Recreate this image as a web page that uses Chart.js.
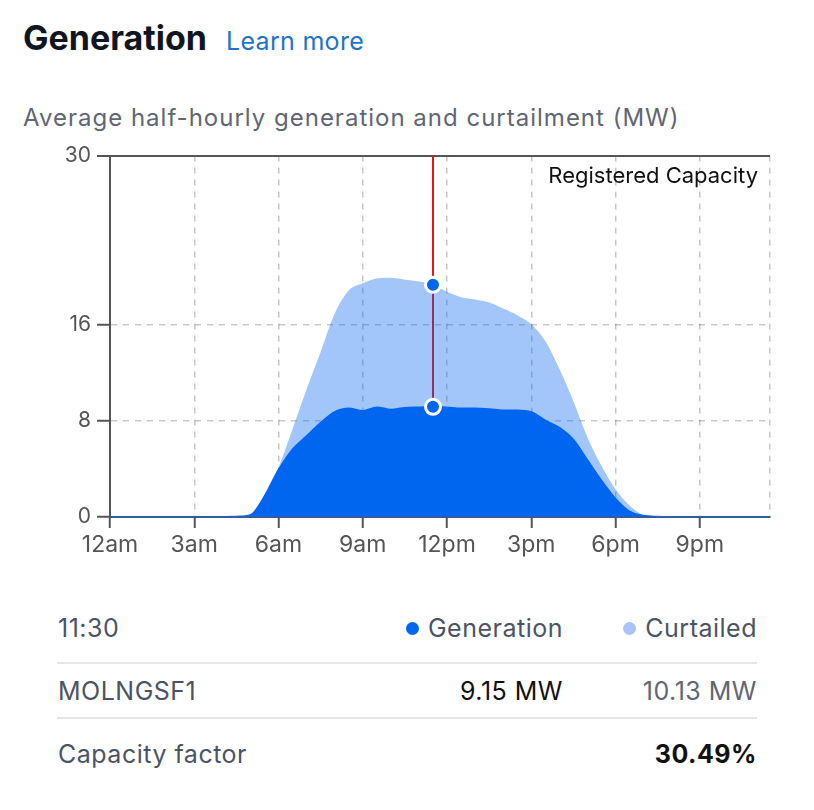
<!DOCTYPE html>
<html>
<head>
<meta charset="utf-8">
<script src="https://cdn.jsdelivr.net/npm/chart.js@4"></script>
<style>
  body { margin: 0; background: #fff; font-family: Inter, "Noto Sans", sans-serif; }
  #page { position: relative; width: 814px; height: 810px; overflow: hidden; }
  .abs { position: absolute; white-space: nowrap; }
  #title { left: 23px; top: 18px; line-height: 40px; display: flex; align-items: baseline; }
  #title b { font-size: 34px; color: #0f1523; font-weight: 700; }
  #title a { font-size: 25px; color: #1f74c8; margin-left: 19px; text-decoration: none; letter-spacing: 0.3px; }
  #subtitle { left: 23px; top: 104px; font-size: 24px; line-height: 28px; color: #5f6675; letter-spacing: 1px; }
  #chartBox { position: absolute; left: 0; top: 137px; width: 814px; height: 433px; }
  .row { left: 57px; width: 700px; font-size: 25px; line-height: 30px; color: #4b5466; letter-spacing: 0.5px; }
  .row span { position: absolute; top: 0; }
  .rule { position: absolute; left: 57px; width: 700px; height: 2px; background: #e3e5ea; }
  .dot { display: inline-block; width: 13px; height: 13px; border-radius: 50%; margin-right: 9px; vertical-align: 2px; }
</style>
</head>
<body>
<div id="page">
  <div id="title" class="abs"><b>Generation</b><a href="#">Learn more</a></div>
  <div id="subtitle" class="abs">Average half-hourly generation and curtailment (MW)</div>
  <div id="chartBox"><canvas id="genChart"></canvas></div>

  <div class="abs row" style="top:613px">
    <span id="hoverTime" style="left:1px"></span>
    <span style="right:194px"><i class="dot" style="background:#0066f0"></i>Generation</span>
    <span style="right:0"><i class="dot" style="background:#a9c4f7"></i>Curtailed</span>
  </div>
  <div class="rule" style="top:662px"></div>
  <div class="abs row" style="top:676px">
    <span id="unitName" style="left:1px"></span>
    <span id="genValue" style="right:194px; color:#111"></span>
    <span id="curValue" style="right:0; color:#5f6675"></span>
  </div>
  <div class="rule" style="top:717px"></div>
  <div class="abs row" style="top:739px">
    <span style="left:1px">Capacity factor</span>
    <span id="capFactor" style="right:0; color:#111; font-weight:700"></span>
  </div>
</div>

<script>
const times = [
  '00:00', '00:30', '01:00', '01:30', '02:00', '02:30', '03:00', '03:30',
  '04:00', '04:30', '05:00', '05:30', '06:00', '06:30', '07:00', '07:30',
  '08:00', '08:30', '09:00', '09:30', '10:00', '10:30', '11:00', '11:30',
  '12:00', '12:30', '13:00', '13:30', '14:00', '14:30', '15:00', '15:30',
  '16:00', '16:30', '17:00', '17:30', '18:00', '18:30', '19:00', '19:30',
  '20:00', '20:30', '21:00', '21:30', '22:00', '22:30', '23:00', '23:30'
];
const generation = [
  0, 0, 0, 0, 0, 0, 0, 0,
  0, 0.03, 0.15, 1.7, 3.9, 5.6, 6.7, 7.8,
  8.7, 9.0, 8.8, 9.1, 8.9, 9.05, 9.1, 9.15,
  9.1, 9.0, 9.0, 8.95, 8.85, 8.85, 8.7, 8.0,
  7.4, 6.4, 4.7, 3.0, 1.5, 0.45, 0.1, 0.02,
  0, 0, 0, 0, 0, 0, 0, 0
];
const curtailed = [
  0, 0, 0, 0, 0, 0, 0, 0,
  0, 0, 0, 0, 0.2, 1.7, 3.9, 5.9,
  8.2, 9.8, 10.6, 10.7, 10.95, 10.65, 10.45, 10.13,
  9.6, 9.25, 9.05, 8.85, 8.45, 7.9, 7.3, 6.6,
  4.9, 3.2, 1.9, 1.25, 0.8, 0.5, 0.05, 0,
  0, 0, 0, 0, 0, 0, 0, 0
];
const hourLabels = ['12am', '3am', '6am', '9am', '12pm', '3pm', '6pm', '9pm'];
const yTicks = [0, 8, 16, 30];
const registeredCapacity = 30;
const unitName = 'MOLNGSF1';
const capacityFactor = '30.49%';
const hoverTime = '11:30';

const hoverIndex = times.indexOf(hoverTime);
const BLUE = '#0066f0';
const AXIS = '#555';
const FONT = 'Inter, "Noto Sans", sans-serif';

document.getElementById('hoverTime').textContent = hoverTime;
document.getElementById('unitName').textContent = unitName;
document.getElementById('genValue').textContent = generation[hoverIndex].toFixed(2) + ' MW';
document.getElementById('curValue').textContent = curtailed[hoverIndex].toFixed(2) + ' MW';
document.getElementById('capFactor').textContent = capacityFactor;

// red cursor line, drawn before the fills so it shows through the curtailed area
const cursorLine = {
  id: 'cursorLine',
  beforeDatasetsDraw(chart) {
    const pt = chart.getDatasetMeta(0).data[hoverIndex];
    const { ctx, chartArea } = chart;
    ctx.save();
    ctx.strokeStyle = '#ee1111';
    ctx.lineWidth = 2;
    ctx.beginPath();
    ctx.moveTo(pt.x, chartArea.top);
    ctx.lineTo(pt.x, pt.y);
    ctx.stroke();
    ctx.restore();
  },
  afterDraw(chart) {
    const { ctx, chartArea } = chart;
    ctx.save();
    ctx.font = '22px ' + FONT;
    ctx.fillStyle = '#111';
    ctx.textAlign = 'right';
    ctx.textBaseline = 'alphabetic';
    ctx.fillText('Registered Capacity', chartArea.right - 12, chartArea.top + 27);
    ctx.restore();
  }
};

const hoverRadius = (c) => (c.dataIndex === hoverIndex ? 7.5 : 0);
const isThreeHour = (c) => c.index % 6 === 0 || c.index === times.length - 1;

new Chart(document.getElementById('genChart'), {
  type: 'line',
  data: {
    labels: times,
    datasets: [
      {
        label: 'Generation',
        data: generation,
        borderColor: BLUE,
        backgroundColor: BLUE,
        borderWidth: 2,
        fill: 'origin',
        cubicInterpolationMode: 'monotone',
        pointRadius: hoverRadius,
        pointBackgroundColor: BLUE,
        pointBorderColor: '#fff',
        pointBorderWidth: 3
      },
      {
        label: 'Curtailed',
        data: curtailed,
        borderColor: 'rgba(0,0,0,0)',
        backgroundColor: 'rgba(0,98,240,0.36)',
        borderWidth: 0,
        fill: '-1',
        cubicInterpolationMode: 'monotone',
        pointRadius: hoverRadius,
        pointBackgroundColor: BLUE,
        pointBorderColor: '#fff',
        pointBorderWidth: 3
      }
    ]
  },
  options: {
    responsive: true,
    maintainAspectRatio: false,
    animation: false,
    events: [],
    layout: { padding: { left: 50, right: 44, top: 11, bottom: 8 } },
    plugins: { legend: { display: false }, tooltip: { enabled: false } },
    scales: {
      x: {
        offset: false,
        afterFit: (scale) => { scale.height = 45; },
        grid: {
          color: (c) => (isThreeHour(c) ? 'rgba(0,0,0,0.22)' : 'rgba(0,0,0,0)'),
          lineWidth: 1.5,
          tickLength: 11,
          tickWidth: 2,
          tickColor: (c) => (c.index % 6 === 0 ? AXIS : 'rgba(0,0,0,0)')
        },
        border: { color: AXIS, width: 2, dash: [6, 6] },
        ticks: {
          autoSkip: false,
          maxRotation: 0,
          padding: 3,
          color: AXIS,
          font: { family: FONT, size: 23 },
          callback: (v, i) => (i % 6 === 0 ? hourLabels[i / 6] : '')
        }
      },
      y: {
        stacked: true,
        min: 0,
        max: registeredCapacity,
        afterFit: (scale) => { scale.width = 60; },
        afterBuildTicks: (scale) => { scale.ticks = yTicks.map(v => ({ value: v })); },
        grid: {
          color: (c) => (c.tick && c.tick.value === registeredCapacity ? AXIS : 'rgba(0,0,0,0.22)'),
          lineWidth: (c) => (c.tick && c.tick.value === registeredCapacity ? 2 : 1.5),
          tickLength: 13,
          tickWidth: 2,
          tickColor: AXIS
        },
        border: {
          color: AXIS,
          width: 2,
          dash: (c) => (c.tick && c.tick.value === registeredCapacity ? [] : [6, 6])
        },
        ticks: {
          padding: 6,
          color: AXIS,
          font: { family: FONT, size: 21 }
        }
      }
    }
  },
  plugins: [cursorLine]
});
</script>
</body>
</html>
